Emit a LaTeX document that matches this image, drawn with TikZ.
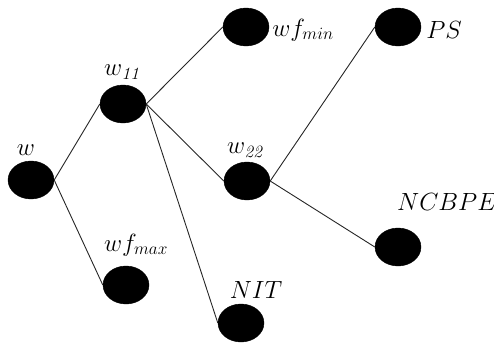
\documentclass[tikz,border=0pt]{standalone}
\usepackage{amsmath}
\usetikzlibrary{shapes.geometric}
\tikzset{
  dot/.style={ellipse, fill=black, draw=black, minimum width=46pt, minimum height=38pt, inner sep=0pt},
  lbl/.style={inner sep=0pt, font=\fontsize{25}{29}\selectfont},
  link/.style={draw=black!85, line width=0.9pt}
}
\begin{document}
\begin{tikzpicture}[x=1pt,y=-1pt]
  \useasboundingbox (0,0) rectangle (494,343);
  % tree nodes
  \node[dot] (w)     at (31,180)  {};
  \node[dot] (w11)   at (123,104) {};
  \node[dot] (wfmax) at (126,285) {};
  \node[dot] (wfmin) at (246,27)  {};
  \node[dot] (w22)   at (247,181) {};
  \node[dot] (nit)   at (241,323) {};
  \node[dot] (ps)    at (398,27)  {};
  \node[dot] (ncbpe) at (398,247) {};
  % labels
  \node[lbl] (lw)     at (26,150)  {$w$};
  \node[lbl] (lw11)   at (123,72)  {$w_{\mathit{11}}$};
  \node[lbl] (lwfmin) at (303,30)  {$wf_{min}$};
  \node[lbl] (lps)    at (444,30)  {$PS$};
  \node[lbl] (lw22)   at (246,150) {$w_{\mathit{22}}$};
  \node[lbl] (lncbpe) at (447,202) {$NCBPE$};
  \node[lbl] (lwfmax) at (136,245) {$wf_{max}$};
  \node[lbl] (lnit)   at (256,290) {$NIT$};
  % connectors
  \path[link] (w.east) -- (w11.west);
  \path[link] (w.east) -- (wfmax.west);
  \path[link] (w11.east) -- (wfmin.west);
  \path[link] (w11.east) -- (w22.west);
  \path[link] (w11.east) -- (nit.west);
  \path[link] (w22.east) -- (ps.west);
  \path[link] (w22.east) -- (ncbpe.west);
\end{tikzpicture}
\end{document}
